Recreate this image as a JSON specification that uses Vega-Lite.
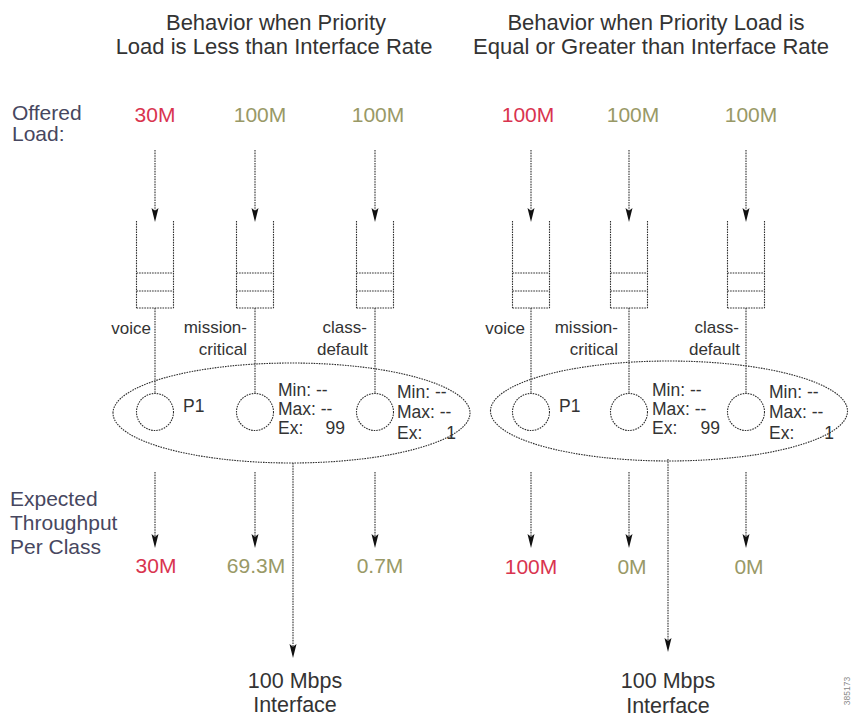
{
  "$schema": "https://vega.github.io/schema/vega-lite/v6.json",
  "width": 854,
  "height": 719,
  "autosize": {"type": "fit", "contains": "padding"},
  "padding": 0,
  "background": "white",
  "config": {"view": {"stroke": null}, "text": {"font": "Liberation Sans"}},
  "datasets": {
    "segments": [
      {"x":155,"y":150,"x2":155,"y2":212},
      {"x":136.5,"y":221,"x2":136.5,"y2":308},
      {"x":173.5,"y":221,"x2":173.5,"y2":308},
      {"x":136.5,"y":308,"x2":173.5,"y2":308},
      {"x":136.5,"y":273,"x2":173.5,"y2":273},
      {"x":136.5,"y":291,"x2":173.5,"y2":291},
      {"x":155,"y":308,"x2":155,"y2":393},
      {"x":155,"y":472,"x2":155,"y2":539},
      {"x":255,"y":150,"x2":255,"y2":212},
      {"x":236.5,"y":221,"x2":236.5,"y2":308},
      {"x":273.5,"y":221,"x2":273.5,"y2":308},
      {"x":236.5,"y":308,"x2":273.5,"y2":308},
      {"x":236.5,"y":273,"x2":273.5,"y2":273},
      {"x":236.5,"y":291,"x2":273.5,"y2":291},
      {"x":255,"y":308,"x2":255,"y2":393},
      {"x":255,"y":472,"x2":255,"y2":539},
      {"x":375,"y":150,"x2":375,"y2":212},
      {"x":356.5,"y":221,"x2":356.5,"y2":308},
      {"x":393.5,"y":221,"x2":393.5,"y2":308},
      {"x":356.5,"y":308,"x2":393.5,"y2":308},
      {"x":356.5,"y":273,"x2":393.5,"y2":273},
      {"x":356.5,"y":291,"x2":393.5,"y2":291},
      {"x":375,"y":308,"x2":375,"y2":393},
      {"x":375,"y":472,"x2":375,"y2":539},
      {"x":531,"y":150,"x2":531,"y2":212},
      {"x":512.5,"y":221,"x2":512.5,"y2":308},
      {"x":549.5,"y":221,"x2":549.5,"y2":308},
      {"x":512.5,"y":308,"x2":549.5,"y2":308},
      {"x":512.5,"y":273,"x2":549.5,"y2":273},
      {"x":512.5,"y":291,"x2":549.5,"y2":291},
      {"x":531,"y":308,"x2":531,"y2":393},
      {"x":531,"y":472,"x2":531,"y2":539},
      {"x":629,"y":150,"x2":629,"y2":212},
      {"x":610.5,"y":221,"x2":610.5,"y2":308},
      {"x":647.5,"y":221,"x2":647.5,"y2":308},
      {"x":610.5,"y":308,"x2":647.5,"y2":308},
      {"x":610.5,"y":273,"x2":647.5,"y2":273},
      {"x":610.5,"y":291,"x2":647.5,"y2":291},
      {"x":629,"y":308,"x2":629,"y2":393},
      {"x":629,"y":472,"x2":629,"y2":539},
      {"x":746,"y":150,"x2":746,"y2":212},
      {"x":727.5,"y":221,"x2":727.5,"y2":308},
      {"x":764.5,"y":221,"x2":764.5,"y2":308},
      {"x":727.5,"y":308,"x2":764.5,"y2":308},
      {"x":727.5,"y":273,"x2":764.5,"y2":273},
      {"x":727.5,"y":291,"x2":764.5,"y2":291},
      {"x":746,"y":308,"x2":746,"y2":393},
      {"x":746,"y":472,"x2":746,"y2":539},
      {"x":293,"y":463,"x2":293,"y2":649},
      {"x":668,"y":459,"x2":668,"y2":643}
    ],
    "tips": [
      {"x":155,"y":222},{"x":255,"y":222},{"x":375,"y":222},
      {"x":531,"y":222},{"x":629,"y":222},{"x":746,"y":222},
      {"x":155,"y":548},{"x":255,"y":548},{"x":375,"y":548},
      {"x":531,"y":548},{"x":629,"y":548},{"x":746,"y":548},
      {"x":293,"y":658},{"x":668,"y":652}
    ],
    "circles": [
      {"x":155,"y":412},{"x":255,"y":412},{"x":375,"y":412},
      {"x":531,"y":412},{"x":629,"y":412},{"x":746,"y":412}
    ],
    "ellipses": [
      {"x":291.5,"y":413},{"x":669,"y":411}
    ],
    "titles": [
      {"x":276,"y":23,"t":"Behavior when Priority"},
      {"x":274,"y":47,"t":"Load is Less than Interface Rate"},
      {"x":656,"y":23,"t":"Behavior when Priority Load is"},
      {"x":651,"y":47,"t":"Equal or Greater than Interface Rate"}
    ],
    "side": [
      {"x":12,"y":114,"t":"Offered"},
      {"x":12,"y":135,"t":"Load:"},
      {"x":10,"y":500,"t":"Expected"},
      {"x":10,"y":524,"t":"Throughput"},
      {"x":10,"y":548,"t":"Per Class"}
    ],
    "loads": [
      {"x":155,"y":116,"t":"30M","cls":"priority"},
      {"x":260,"y":116,"t":"100M","cls":"other"},
      {"x":378,"y":116,"t":"100M","cls":"other"},
      {"x":528,"y":116,"t":"100M","cls":"priority"},
      {"x":633,"y":116,"t":"100M","cls":"other"},
      {"x":751,"y":116,"t":"100M","cls":"other"},
      {"x":156,"y":567,"t":"30M","cls":"priority"},
      {"x":256,"y":567,"t":"69.3M","cls":"other"},
      {"x":380,"y":567,"t":"0.7M","cls":"other"},
      {"x":531,"y":568,"t":"100M","cls":"priority"},
      {"x":632,"y":568,"t":"0M","cls":"other"},
      {"x":749,"y":568,"t":"0M","cls":"other"}
    ],
    "qlabels": [
      {"x":151,"y":329,"t":"voice"},
      {"x":247,"y":328,"t":"mission-"},
      {"x":247,"y":350,"t":"critical"},
      {"x":367,"y":328,"t":"class-"},
      {"x":368,"y":350,"t":"default"},
      {"x":525,"y":329,"t":"voice"},
      {"x":618,"y":328,"t":"mission-"},
      {"x":618,"y":350,"t":"critical"},
      {"x":739,"y":328,"t":"class-"},
      {"x":740,"y":350,"t":"default"}
    ],
    "clabels": [
      {"x":183,"y":407,"t":"P1"},
      {"x":278,"y":391,"t":"Min: --"},
      {"x":278,"y":410,"t":"Max: --"},
      {"x":278,"y":429,"t":"Ex:"},
      {"x":397,"y":393,"t":"Min: --"},
      {"x":397,"y":413,"t":"Max: --"},
      {"x":397,"y":434,"t":"Ex:"},
      {"x":559,"y":407,"t":"P1"},
      {"x":652,"y":391,"t":"Min: --"},
      {"x":652,"y":410,"t":"Max: --"},
      {"x":652,"y":429,"t":"Ex:"},
      {"x":769,"y":393,"t":"Min: --"},
      {"x":769,"y":413,"t":"Max: --"},
      {"x":769,"y":434,"t":"Ex:"}
    ],
    "nums": [
      {"x":345,"y":429,"t":"99"},
      {"x":456,"y":434,"t":"1"},
      {"x":720,"y":429,"t":"99"},
      {"x":834,"y":434,"t":"1"}
    ],
    "iface": [
      {"x":295,"y":682,"t":"100 Mbps"},
      {"x":295,"y":706,"t":"Interface"},
      {"x":668,"y":682,"t":"100 Mbps"},
      {"x":668,"y":707,"t":"Interface"}
    ],
    "fig": [
      {"x":847,"y":691,"t":"385173"}
    ]
  },
  "encoding": {
    "x": {"field":"x","type":"quantitative","scale":{"domain":[0,854],"nice":false,"zero":false},"axis":null},
    "y": {"field":"y","type":"quantitative","scale":{"domain":[0,719],"nice":false,"zero":false,"reverse":true},"axis":null}
  },
  "layer": [
    {
      "data": {"name":"ellipses"},
      "mark": {"type":"point","filled":false,"opacity":1,"stroke":"#2e2e2e","strokeWidth":1.1,"strokeDash":[1.6,1],
        "shape":"M -1 0 C -1 -0.1546 -0.5523 -0.28 0 -0.28 C 0.5523 -0.28 1 -0.1546 1 0 C 1 0.1546 0.5523 0.28 0 0.28 C -0.5523 0.28 -1 0.1546 -1 0 Z",
        "size":127449}
    },
    {
      "data": {"name":"segments"},
      "mark": {"type":"rule","stroke":"#2e2e2e","strokeWidth":1.1,"strokeDash":[1.6,1]},
      "encoding": {"x2":{"field":"x2"},"y2":{"field":"y2"}}
    },
    {
      "data": {"name":"circles"},
      "mark": {"type":"point","shape":"circle","filled":false,"opacity":1,"stroke":"#2e2e2e","strokeWidth":1.1,"strokeDash":[1.6,1],"size":1369}
    },
    {
      "data": {"name":"tips"},
      "mark": {"type":"point","filled":true,"opacity":1,"color":"#111111","yOffset":-7,
        "shape":"M -0.5 -1 L 0 -0.6 L 0.5 -1 L 0 1 Z","size":196}
    },
    {
      "data": {"name":"titles"},
      "mark": {"type":"text","align":"center","baseline":"middle","fontSize":22,"color":"#333333"},
      "encoding": {"text":{"field":"t"}}
    },
    {
      "data": {"name":"side"},
      "mark": {"type":"text","align":"left","baseline":"middle","fontSize":21,"color":"#474760"},
      "encoding": {"text":{"field":"t"}}
    },
    {
      "data": {"name":"loads"},
      "mark": {"type":"text","align":"center","baseline":"middle","fontSize":21},
      "encoding": {
        "text":{"field":"t"},
        "color":{"field":"cls","type":"nominal","scale":{"domain":["priority","other"],"range":["#d9344f","#999966"]},"legend":null}
      }
    },
    {
      "data": {"name":"qlabels"},
      "mark": {"type":"text","align":"right","baseline":"middle","fontSize":17,"color":"#333333"},
      "encoding": {"text":{"field":"t"}}
    },
    {
      "data": {"name":"clabels"},
      "mark": {"type":"text","align":"left","baseline":"middle","fontSize":17.5,"color":"#333333"},
      "encoding": {"text":{"field":"t"}}
    },
    {
      "data": {"name":"nums"},
      "mark": {"type":"text","align":"right","baseline":"middle","fontSize":17.5,"color":"#333333"},
      "encoding": {"text":{"field":"t"}}
    },
    {
      "data": {"name":"iface"},
      "mark": {"type":"text","align":"center","baseline":"middle","fontSize":21.5,"color":"#333333"},
      "encoding": {"text":{"field":"t"}}
    },
    {
      "data": {"name":"fig"},
      "mark": {"type":"text","align":"center","baseline":"middle","fontSize":8.5,"angle":270,"color":"#888888"},
      "encoding": {"text":{"field":"t"}}
    }
  ]
}
